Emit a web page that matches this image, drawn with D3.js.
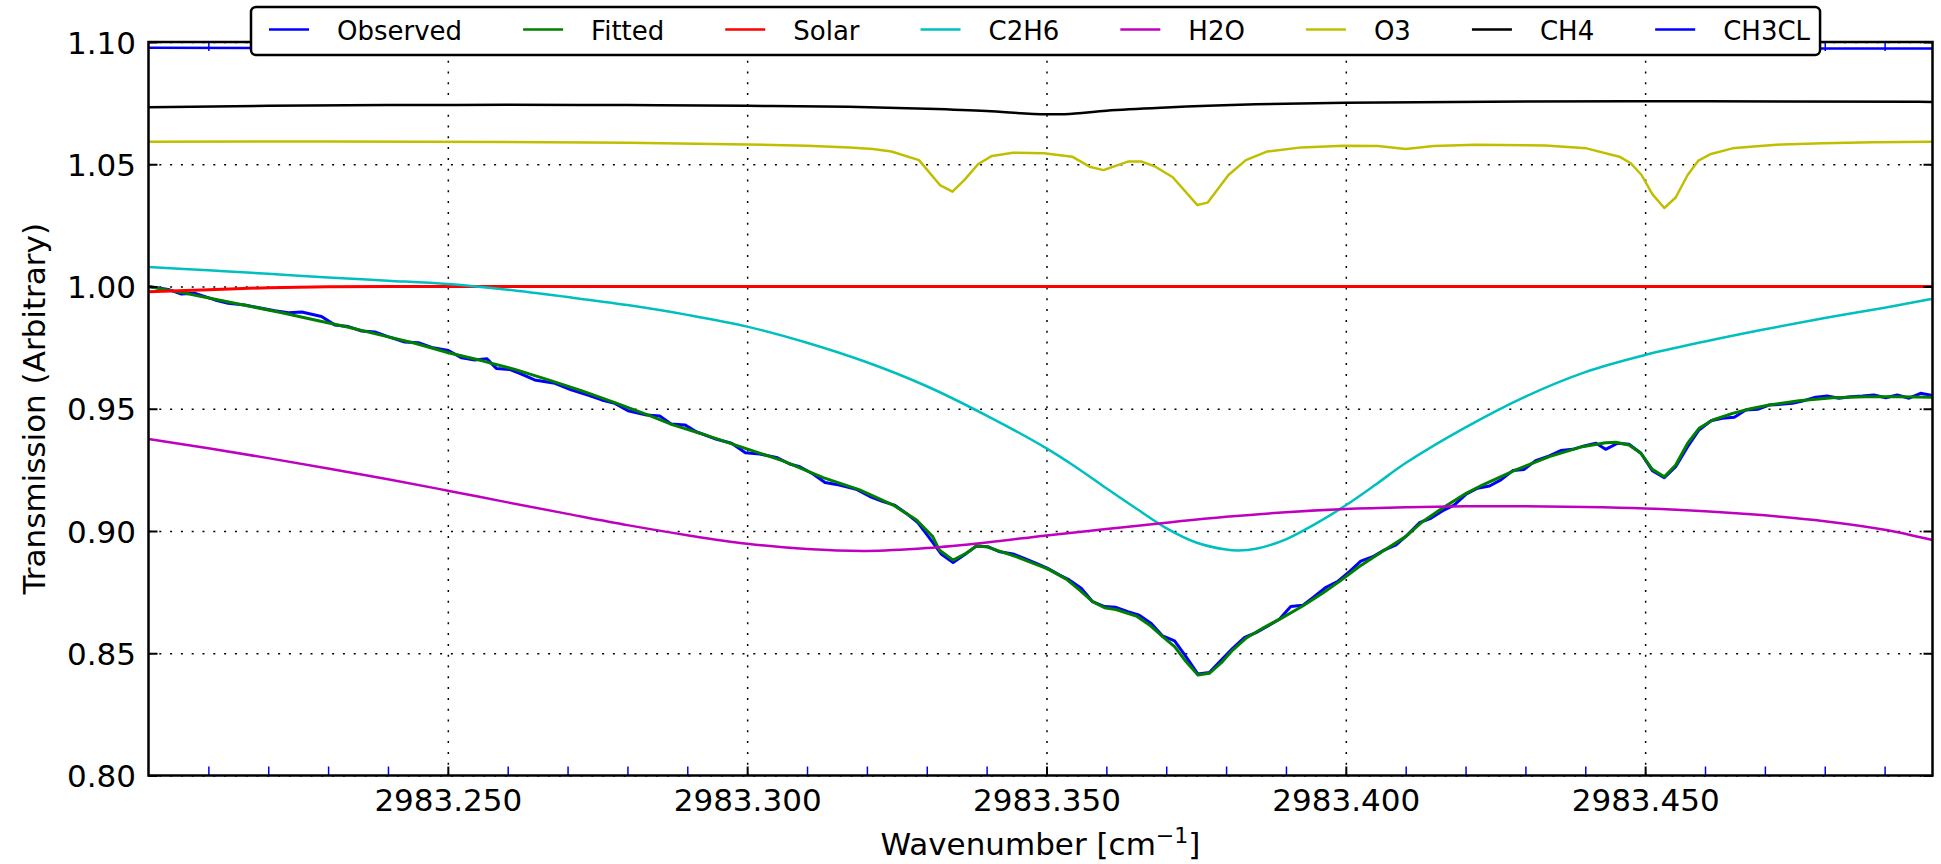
<!DOCTYPE html>
<html>
<head>
<meta charset="utf-8">
<script src="https://cdn.jsdelivr.net/npm/d3@7"></script>
<style>
  html, body { margin: 0; padding: 0; background: #ffffff; overflow: hidden; }
  svg { display: block; }
  text { font-family: "DejaVu Sans", sans-serif; }
</style>
</head>
<body>
<div id="canvas"></div>
<script>
// figure size
const width = 1941;
const height = 864;

// tick values
const xMajor = [2983.25, 2983.30, 2983.35, 2983.40, 2983.45];
const xMinor = [2983.21, 2983.22, 2983.23, 2983.24, 2983.26, 2983.27, 2983.28, 2983.29,
                2983.31, 2983.32, 2983.33, 2983.34, 2983.36, 2983.37, 2983.38, 2983.39,
                2983.41, 2983.42, 2983.43, 2983.44, 2983.46, 2983.47, 2983.48, 2983.49];
const yMajor = [0.80, 0.85, 0.90, 0.95, 1.00, 1.05, 1.10];

// observed spectrum
const obsWn = [
  2983.2000, 2983.2033, 2983.2055, 2983.2078, 2983.2111, 2983.2133, 2983.2161, 2983.2189, 2983.2211, 2983.2234,
  2983.2256, 2983.2289, 2983.2311, 2983.2334, 2983.2356, 2983.2378, 2983.2400, 2983.2428, 2983.2451, 2983.2473,
  2983.2501, 2983.2523, 2983.2545, 2983.2565, 2983.2581, 2983.2603, 2983.2623, 2983.2645, 2983.2679, 2983.2706,
  2983.2734, 2983.2757, 2983.2779, 2983.2801, 2983.2832, 2983.2854, 2983.2873, 2983.2896, 2983.2915, 2983.2949,
  2983.2974, 2983.2997, 2983.3021, 2983.3049, 2983.3071, 2983.3088, 2983.3110, 2983.3130, 2983.3154, 2983.3182,
  2983.3205, 2983.3227, 2983.3246, 2983.3266, 2983.3285, 2983.3305, 2983.3324, 2983.3344, 2983.3363, 2983.3383,
  2983.3402, 2983.3422, 2983.3444, 2983.3463, 2983.3483, 2983.3502, 2983.3522, 2983.3538, 2983.3558, 2983.3577,
  2983.3597, 2983.3616, 2983.3636, 2983.3655, 2983.3675, 2983.3694, 2983.3714, 2983.3733, 2983.3753, 2983.3772,
  2983.3792, 2983.3811, 2983.3831, 2983.3850, 2983.3870, 2983.3889, 2983.3908, 2983.3928, 2983.3947, 2983.3967,
  2983.3986, 2983.4006, 2983.4025, 2983.4045, 2983.4064, 2983.4084, 2983.4103, 2983.4123, 2983.4142, 2983.4162,
  2983.4181, 2983.4201, 2983.4220, 2983.4240, 2983.4259, 2983.4279, 2983.4298, 2983.4317, 2983.4340, 2983.4359,
  2983.4379, 2983.4398, 2983.4418, 2983.4434, 2983.4454, 2983.4473, 2983.4493, 2983.4512, 2983.4532, 2983.4551,
  2983.4571, 2983.4590, 2983.4610, 2983.4629, 2983.4649, 2983.4668, 2983.4688, 2983.4707, 2983.4727, 2983.4746,
  2983.4765, 2983.4785, 2983.4804, 2983.4824, 2983.4843, 2983.4863, 2983.4882, 2983.4902, 2983.4921, 2983.4941,
  2983.4960, 2983.4980
];
const observed = [
  1.0000, 0.9988, 0.9969, 0.9972, 0.9945, 0.9931, 0.9924, 0.9911, 0.9901, 0.9893,
  0.9896, 0.9877, 0.9843, 0.9836, 0.9818, 0.9814, 0.9795, 0.9773, 0.9770, 0.9751,
  0.9738, 0.9708, 0.9699, 0.9705, 0.9665, 0.9661, 0.9642, 0.9618, 0.9604, 0.9577,
  0.9556, 0.9536, 0.9522, 0.9492, 0.9474, 0.9470, 0.9438, 0.9434, 0.9406, 0.9375,
  0.9359, 0.9320, 0.9315, 0.9301, 0.9274, 0.9263, 0.9233, 0.9198, 0.9188, 0.9171,
  0.9141, 0.9120, 0.9106, 0.9072, 0.9034, 0.8970, 0.8906, 0.8871, 0.8903, 0.8939,
  0.8936, 0.8915, 0.8906, 0.8888, 0.8868, 0.8847, 0.8820, 0.8800, 0.8766, 0.8711,
  0.8691, 0.8688, 0.8670, 0.8656, 0.8622, 0.8571, 0.8551, 0.8486, 0.8415, 0.8421,
  0.8472, 0.8520, 0.8565, 0.8584, 0.8612, 0.8639, 0.8691, 0.8696, 0.8731, 0.8770,
  0.8793, 0.8834, 0.8877, 0.8895, 0.8922, 0.8943, 0.8984, 0.9034, 0.9052, 0.9083,
  0.9106, 0.9151, 0.9175, 0.9184, 0.9209, 0.9247, 0.9252, 0.9288, 0.9307, 0.9329,
  0.9334, 0.9348, 0.9359, 0.9334, 0.9359, 0.9355, 0.9318, 0.9247, 0.9218, 0.9263,
  0.9345, 0.9413, 0.9451, 0.9461, 0.9465, 0.9495, 0.9498, 0.9515, 0.9518, 0.9522,
  0.9533, 0.9547, 0.9552, 0.9543, 0.9549, 0.9552, 0.9556, 0.9545, 0.9556, 0.9543,
  0.9563, 0.9554
];

// fitted spectrum
const fitWn = [
  2983.2000, 2983.2056, 2983.2111, 2983.2167, 2983.2223, 2983.2278, 2983.2334, 2983.2390, 2983.2445, 2983.2501,
  2983.2556, 2983.2612, 2983.2668, 2983.2723, 2983.2779, 2983.2835, 2983.2876, 2983.2921, 2983.2997, 2983.3060,
  2983.3127, 2983.3188, 2983.3244, 2983.3283, 2983.3310, 2983.3321, 2983.3344, 2983.3366, 2983.3383, 2983.3399,
  2983.3449, 2983.3502, 2983.3533, 2983.3555, 2983.3577, 2983.3597, 2983.3616, 2983.3650, 2983.3672, 2983.3694,
  2983.3714, 2983.3733, 2983.3753, 2983.3772, 2983.3794, 2983.3811, 2983.3833, 2983.3861, 2983.3895, 2983.3928,
  2983.3961, 2983.3989, 2983.4022, 2983.4061, 2983.4100, 2983.4128, 2983.4161, 2983.4201, 2983.4228, 2983.4284,
  2983.4340, 2983.4395, 2983.4434, 2983.4451, 2983.4473, 2983.4493, 2983.4512, 2983.4532, 2983.4551, 2983.4571,
  2983.4590, 2983.4613, 2983.4646, 2983.4674, 2983.4707, 2983.4757, 2983.4813, 2983.4868, 2983.4924, 2983.4980
];
const fitted = [
  1.0000, 0.9975, 0.9948, 0.9920, 0.9893, 0.9863, 0.9833, 0.9800, 0.9768, 0.9729,
  0.9697, 0.9661, 0.9618, 0.9574, 0.9525, 0.9474, 0.9434, 0.9400, 0.9338, 0.9287,
  0.9218, 0.9168, 0.9106, 0.9045, 0.8977, 0.8922, 0.8881, 0.8909, 0.8939, 0.8936,
  0.8895, 0.8845, 0.8803, 0.8759, 0.8711, 0.8686, 0.8679, 0.8652, 0.8616, 0.8568,
  0.8527, 0.8466, 0.8411, 0.8418, 0.8466, 0.8513, 0.8561, 0.8602, 0.8647, 0.8693,
  0.8745, 0.8793, 0.8854, 0.8916, 0.8977, 0.9038, 0.9093, 0.9154, 0.9188, 0.9250,
  0.9304, 0.9345, 0.9361, 0.9363, 0.9352, 0.9318, 0.9252, 0.9222, 0.9270, 0.9359,
  0.9420, 0.9454, 0.9481, 0.9499, 0.9515, 0.9533, 0.9545, 0.9549, 0.9549, 0.9547
];

// solar
const solarWn = [2983.200, 2983.210, 2983.220, 2983.230, 2983.240, 2983.300, 2983.400, 2983.498];
const solar   = [0.9979, 0.9987, 0.9995, 0.9999, 1.0000, 1.0000, 1.0000, 1.0000];

// C2H6
const c2h6Wn = [
  2983.200, 2983.210, 2983.220, 2983.230, 2983.240, 2983.250, 2983.260, 2983.270, 2983.280, 2983.290,
  2983.300, 2983.310, 2983.320, 2983.330, 2983.340, 2983.350, 2983.355, 2983.360, 2983.365, 2983.370,
  2983.375, 2983.380, 2983.382, 2983.385, 2983.390, 2983.395, 2983.400, 2983.405, 2983.410, 2983.420,
  2983.430, 2983.440, 2983.450, 2983.460, 2983.470, 2983.480, 2983.490, 2983.498
];
const c2h6 = [
  1.0080, 1.0066, 1.0052, 1.0037, 1.0024, 1.0010, 0.9987, 0.9957, 0.9924, 0.9884,
  0.9836, 0.9770, 0.9690, 0.9592, 0.9472, 0.9338, 0.9260, 0.9175, 0.9092, 0.9012,
  0.8953, 0.8924, 0.8920, 0.8927, 0.8966, 0.9030, 0.9105, 0.9190, 0.9278, 0.9424,
  0.9550, 0.9650, 0.9720, 0.9775, 0.9825, 0.9871, 0.9913, 0.9950
];

// H2O
const h2oWn = [
  2983.200, 2983.210, 2983.220, 2983.230, 2983.240, 2983.250, 2983.260, 2983.270, 2983.280, 2983.290,
  2983.300, 2983.310, 2983.320, 2983.330, 2983.340, 2983.350, 2983.360, 2983.370, 2983.380, 2983.390,
  2983.400, 2983.410, 2983.420, 2983.430, 2983.440, 2983.450, 2983.460, 2983.470, 2983.480, 2983.490,
  2983.498
];
const h2o = [
  0.9376, 0.9338, 0.9298, 0.9256, 0.9212, 0.9165, 0.9117, 0.9070, 0.9024, 0.8983,
  0.8948, 0.8926, 0.8918, 0.8930, 0.8953, 0.8982, 0.9008, 0.9034, 0.9058, 0.9077,
  0.9090, 0.9097, 0.9101, 0.9101, 0.9098, 0.9092, 0.9081, 0.9064, 0.9040, 0.9005,
  0.8963
];

// O3 (offset curve)
const o3Wn = [
  2983.2000, 2983.2300, 2983.2600, 2983.2800, 2983.3000, 2983.3100, 2983.3171, 2983.3210, 2983.3241, 2983.3287,
  2983.3322, 2983.3343, 2983.3363, 2983.3386, 2983.3409, 2983.3444, 2983.3496, 2983.3543, 2983.3572, 2983.3595,
  2983.3636, 2983.3659, 2983.3682, 2983.3711, 2983.3752, 2983.3769, 2983.3804, 2983.3833, 2983.3868, 2983.3926,
  2983.3996, 2983.4054, 2983.4100, 2983.4147, 2983.4217, 2983.4333, 2983.4402, 2983.4457, 2983.4476, 2983.4494,
  2983.4512, 2983.4532, 2983.4551, 2983.4571, 2983.4589, 2983.4610, 2983.4646, 2983.4681, 2983.4729, 2983.4797,
  2983.4880, 2983.4979
];
const o3 = [
  1.0592, 1.0593, 1.0591, 1.0588, 1.0581, 1.0576, 1.0569, 1.0562, 1.0552, 1.0517,
  1.0415, 1.0388, 1.0436, 1.0501, 1.0534, 1.0547, 1.0545, 1.0531, 1.0490, 1.0476,
  1.0511, 1.0511, 1.0490, 1.0447, 1.0333, 1.0343, 1.0456, 1.0517, 1.0552, 1.0569,
  1.0576, 1.0575, 1.0562, 1.0575, 1.0580, 1.0577, 1.0565, 1.0531, 1.0504, 1.0456,
  1.0378, 1.0321, 1.0364, 1.0456, 1.0515, 1.0542, 1.0565, 1.0573, 1.0581, 1.0586,
  1.0590, 1.0592
];

// CH4 (offset curve)
const ch4Wn = [2983.200, 2983.220, 2983.240, 2983.260, 2983.280, 2983.300, 2983.317, 2983.330, 2983.340,
               2983.350, 2983.353, 2983.360, 2983.370, 2983.385, 2983.400, 2983.430, 2983.460, 2983.498];
const ch4   = [1.0733, 1.0739, 1.0742, 1.0743, 1.0742, 1.0739, 1.0735, 1.0727, 1.0718,
               1.0704, 1.0705, 1.0719, 1.0732, 1.0745, 1.0752, 1.0757, 1.0758, 1.0755];

// CH3CL (offset curve)
const ch3clWn = [2983.200, 2983.300, 2983.400, 2983.498];
const ch3cl   = [1.0976, 1.0975, 1.0975, 1.0973];

// create canvas svg element
const canvas = d3.select('#canvas')
                .append('svg')
                .attr('width', width)
                .attr('height', height)
                .style('background-color', '#ffffff');

// scales
const xScale = d3.scaleLinear()
                .domain([2983.2, 2983.498])
                .range([148.5, 1932.5]);

const yScale = d3.scaleLinear()
                .domain([0.80, 1.10])
                .range([775.5, 42]);

const [plotLeft, plotRight] = xScale.range();
const [plotBottom, plotTop] = yScale.range();
const innerWidth = plotRight - plotLeft;
const innerHeight = plotBottom - plotTop;

canvas.append('defs').append('clipPath')
    .attr('id', 'plot-clip')
  .append('rect')
    .attr('x', plotLeft).attr('y', plotTop)
    .attr('width', innerWidth).attr('height', innerHeight);

// dotted grid
const gridX = canvas.append('g')
    .attr('transform', `translate(0,${plotBottom})`)
    .call(d3.axisBottom(xScale).tickValues(xMajor).tickSize(-innerHeight).tickFormat(''));
const gridY = canvas.append('g')
    .attr('transform', `translate(${plotLeft},0)`)
    .call(d3.axisLeft(yScale).tickValues(yMajor).tickSize(-innerWidth).tickFormat(''));
[gridX, gridY].forEach(g => {
    g.select('.domain').remove();
    g.selectAll('text').remove();
    g.selectAll('line')
        .attr('stroke', '#000')
        .attr('stroke-width', 1.5)
        .attr('stroke-dasharray', '2,8.8');
});

// series, in plotting order
const series = [
    { name: 'Observed', color: '#0000ff', wn: obsWn,   val: observed, curve: d3.curveLinear,    lw: 3 },
    { name: 'Fitted',   color: '#008000', wn: fitWn,   val: fitted,   curve: d3.curveLinear,    lw: 3 },
    { name: 'Solar',    color: '#ff0000', wn: solarWn, val: solar,    curve: d3.curveMonotoneX, lw: 3 },
    { name: 'C2H6',     color: '#00bfbf', wn: c2h6Wn,  val: c2h6,     curve: d3.curveCatmullRom.alpha(0.5), lw: 2.5 },
    { name: 'H2O',      color: '#bf00bf', wn: h2oWn,   val: h2o,      curve: d3.curveCatmullRom.alpha(0.5), lw: 2.5 },
    { name: 'O3',       color: '#bfbf00', wn: o3Wn,    val: o3,       curve: d3.curveLinear,    lw: 2.5 },
    { name: 'CH4',      color: '#000000', wn: ch4Wn,   val: ch4,      curve: d3.curveMonotoneX, lw: 2.5 },
    { name: 'CH3CL',    color: '#0000ff', wn: ch3clWn, val: ch3cl,    curve: d3.curveMonotoneX, lw: 2.5 }
];

const plot = canvas.append('g').attr('clip-path', 'url(#plot-clip)');

series.forEach(s => {
    const line = d3.line()
        .x(d => xScale(d[0]))
        .y(d => yScale(d[1]))
        .curve(s.curve);
    plot.append('path')
        .datum(d3.zip(s.wn, s.val))
        .attr('fill', 'none')
        .attr('stroke', s.color)
        .attr('stroke-width', s.lw)
        .attr('stroke-linejoin', 'round')
        .attr('d', line);
});

// ticks, all pointing inwards
const styleAxis = (g, color, lw) => {
    g.select('.domain').remove();
    g.selectAll('.tick line').attr('stroke', color).attr('stroke-width', lw);
    g.attr('font-family', 'DejaVu Sans').attr('font-size', 31);
    g.selectAll('text').attr('fill', '#000');
    g.selectAll('text').filter(function() { return this.textContent === ''; }).remove();
};

styleAxis(canvas.append('g')
    .attr('transform', `translate(0,${plotBottom})`)
    .call(d3.axisBottom(xScale).tickValues(xMinor).tickSizeInner(-9).tickSizeOuter(0).tickFormat('')), '#0000ff', 1.5);
styleAxis(canvas.append('g')
    .attr('transform', `translate(0,${plotTop})`)
    .call(d3.axisTop(xScale).tickValues(xMinor).tickSizeInner(-9).tickSizeOuter(0).tickFormat('')), '#0000ff', 1.5);

styleAxis(canvas.append('g')
    .attr('transform', `translate(0,${plotBottom})`)
    .call(d3.axisBottom(xScale).tickValues(xMajor).tickSizeInner(-9).tickSizeOuter(0)
        .tickPadding(13.5).tickFormat(d3.format('.3f'))), '#000', 2);
styleAxis(canvas.append('g')
    .attr('transform', `translate(0,${plotTop})`)
    .call(d3.axisTop(xScale).tickValues(xMajor).tickSizeInner(-9).tickSizeOuter(0).tickFormat('')), '#000', 2);

const yLeft = canvas.append('g')
    .attr('transform', `translate(${plotLeft},0)`)
    .call(d3.axisLeft(yScale).tickValues(yMajor).tickSizeInner(-9).tickSizeOuter(0)
        .tickPadding(12.5).tickFormat(d3.format('.2f')));
styleAxis(yLeft, '#000', 2);
yLeft.selectAll('text').attr('dy', '0.36em');
styleAxis(canvas.append('g')
    .attr('transform', `translate(${plotRight},0)`)
    .call(d3.axisRight(yScale).tickValues(yMajor).tickSizeInner(-9).tickSizeOuter(0).tickFormat('')), '#000', 2);

// frame
canvas.append('rect')
    .attr('x', plotLeft).attr('y', plotTop)
    .attr('width', innerWidth).attr('height', innerHeight)
    .attr('fill', 'none')
    .attr('stroke', '#000')
    .attr('stroke-width', 2.5);

// axis titles
const xTitle = canvas.append('text')
    .attr('x', (plotLeft + plotRight) / 2)
    .attr('y', 855)
    .attr('text-anchor', 'middle')
    .style('font-size', '31px');
xTitle.append('tspan').text('Wavenumber [cm');
xTitle.append('tspan').attr('dy', -12).style('font-size', '22px').text('\u22121');
xTitle.append('tspan').attr('dy', 12).text(']');

canvas.append('text')
    .attr('transform', `translate(45,${(plotTop + plotBottom) / 2}) rotate(-90)`)
    .attr('text-anchor', 'middle')
    .style('font-size', '31px')
    .text('Transmission (Arbitrary)');

// legend across the top
const legend = canvas.append('g');
const legendBox = legend.append('rect')
    .attr('x', 251).attr('y', 7)
    .attr('height', 48)
    .attr('rx', 5)
    .attr('fill', '#ffffff')
    .attr('stroke', '#000')
    .attr('stroke-width', 2.5);

let cursor = 269;
series.forEach(s => {
    legend.append('line')
        .attr('x1', cursor).attr('x2', cursor + 40)
        .attr('y1', 29.5).attr('y2', 29.5)
        .attr('stroke', s.color)
        .attr('stroke-width', 2.5);
    const label = legend.append('text')
        .attr('x', cursor + 68)
        .attr('y', 40)
        .style('font-size', '26px')
        .text(s.name);
    cursor = cursor + 68 + label.node().getComputedTextLength() + 61;
});
legendBox.attr('width', cursor - 61 + 10 - 251);
</script>
</body>
</html>
